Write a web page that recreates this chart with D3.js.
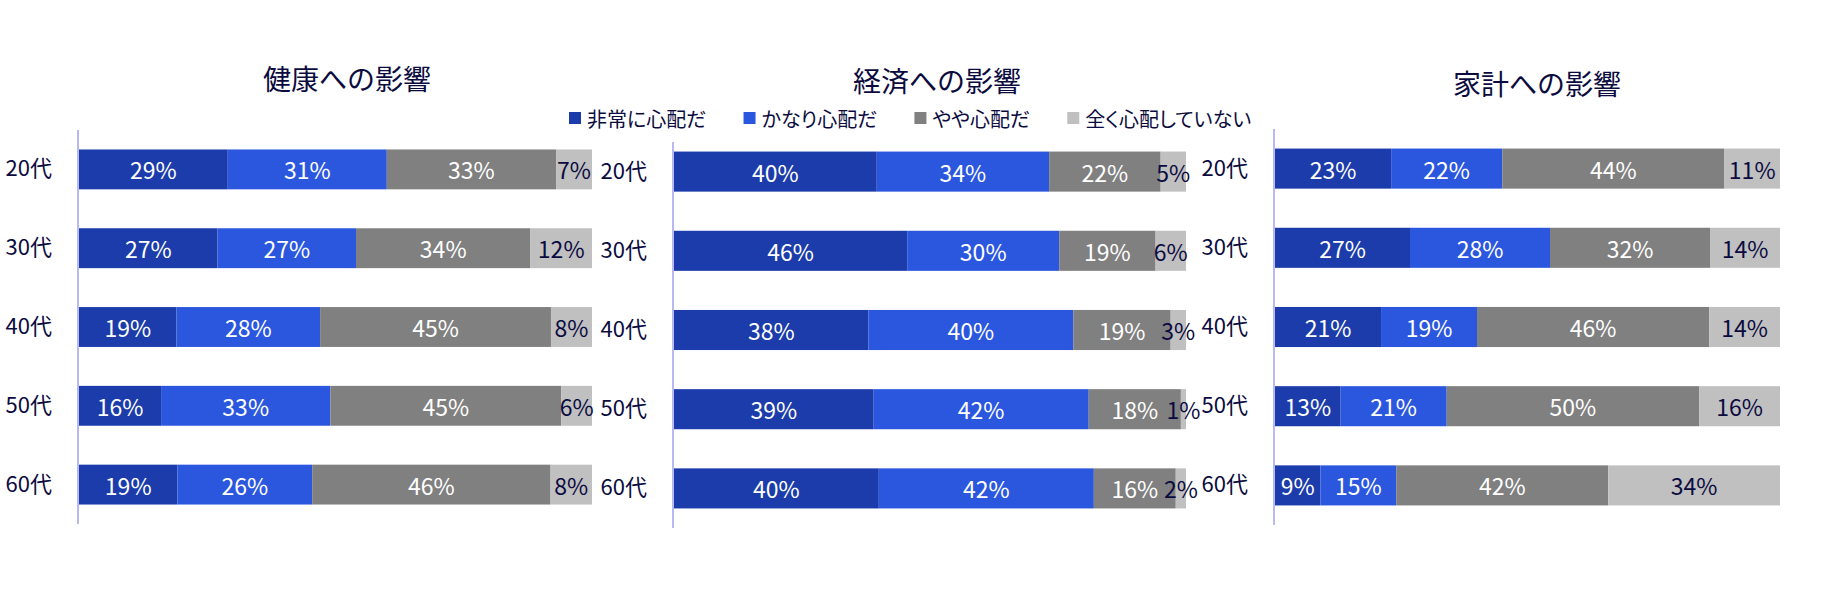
<!DOCTYPE html>
<html>
<head>
<meta charset="utf-8">
<script src="https://cdn.jsdelivr.net/npm/d3@7"></script>
<style>
  body { margin: 0; background: #fff; }
  svg { display: block; font-family: "Noto Sans CJK JP", "Noto Sans", sans-serif; }
</style>
</head>
<body>
<svg id="chart"></svg>
<script>
const width = 1842;
const height = 610;

// categories and series
const ages = ["20代", "30代", "40代", "50代", "60代"];
const seriesNames = ["非常に心配だ", "かなり心配だ", "やや心配だ", "全く心配していない"];
const colors = ["#1b3caa", "#2b57df", "#808080", "#c0c0c0"];

// 健康への影響
const healthVery = [29, 27, 19, 16, 19];
const healthQuite = [31, 27, 28, 33, 26];
const healthSome = [33, 34, 45, 45, 46];
const healthNone = [7, 12, 8, 6, 8];

// 経済への影響
const economyVery = [40, 46, 38, 39, 40];
const economyQuite = [34, 30, 40, 42, 42];
const economySome = [22, 19, 19, 18, 16];
const economyNone = [5, 6, 3, 1, 2];

// 家計への影響
const householdVery = [23, 27, 21, 13, 9];
const householdQuite = [22, 28, 19, 21, 15];
const householdSome = [44, 32, 46, 50, 42];
const householdNone = [11, 14, 14, 16, 34];

const textColor = "#0b0b40";
const axisColor = "#b8b8f2";

// panel layout (pixels)
const panels = [
    { title: "健康への影響", series: [healthVery, healthQuite, healthSome, healthNone],
      x0: 79, x1: 592, y0: 130, y1: 524, axisTop: 130, titleX: 347, titleY: 78 },
    { title: "経済への影響", series: [economyVery, economyQuite, economySome, economyNone],
      x0: 674, x1: 1186, y0: 132, y1: 528, axisTop: 142, titleX: 937, titleY: 80 },
    { title: "家計への影響", series: [householdVery, householdQuite, householdSome, householdNone],
      x0: 1275, x1: 1780, y0: 129, y1: 525, axisTop: 129, titleX: 1537, titleY: 83 }
];

const svg = d3.select("#chart")
    .attr("width", width)
    .attr("height", height);

svg.append("rect").attr("width", width).attr("height", height).attr("fill", "#fff");

panels.forEach(p => {
    // build rows for the stack
    const rows = ages.map((age, i) => {
        const row = { age: age };
        seriesNames.forEach((s, k) => { row[s] = p.series[k][i]; });
        return row;
    });

    const stacked = d3.stack()
        .keys(seriesNames)
        .offset(d3.stackOffsetExpand)(rows);

    const x = d3.scaleLinear().domain([0, 1]).range([p.x0, p.x1]);
    const y = d3.scaleBand().domain(ages).range([p.y0, p.y1])
        .paddingInner(0.494).paddingOuter(0.247);

    const g = svg.append("g");

    g.append("text")
        .attr("x", p.titleX)
        .attr("y", p.titleY)
        .attr("text-anchor", "middle")
        .attr("dominant-baseline", "central")
        .attr("font-size", 28)
        .attr("fill", textColor)
        .text(p.title);

    const layer = g.selectAll("g.layer")
        .data(stacked)
        .join("g")
        .attr("class", "layer")
        .attr("fill", (d, k) => colors[k]);

    layer.selectAll("rect")
        .data(d => d)
        .join("rect")
        .attr("x", d => x(d[0]))
        .attr("y", d => y(d.data.age))
        .attr("width", d => x(d[1]) - x(d[0]))
        .attr("height", y.bandwidth());

    // value labels
    stacked.forEach((s, k) => {
        g.selectAll(null)
            .data(s)
            .join("text")
            .attr("x", d => (x(d[0]) + x(d[1])) / 2)
            .attr("y", d => y(d.data.age) + y.bandwidth() / 2)
            .attr("text-anchor", "middle")
            .attr("dominant-baseline", "central")
            .attr("font-size", 23)
            .attr("fill", k === 3 ? textColor : "#fff")
            .text(d => d.data[s.key] + "%");
    });

    // category axis
    const axis = g.append("g")
        .attr("transform", `translate(${p.x0 - 1},0)`)
        .call(d3.axisLeft(y).tickSize(0).tickPadding(26));
    axis.select(".domain").remove();
    axis.selectAll("text")
        .attr("font-size", 22)
        .attr("font-family", "Noto Sans CJK JP")
        .attr("fill", textColor);

    g.append("line")
        .attr("x1", p.x0 - 1).attr("x2", p.x0 - 1)
        .attr("y1", p.axisTop).attr("y2", p.y1)
        .attr("stroke", axisColor)
        .attr("stroke-width", 2);
});

// legend
const legend = svg.append("g").attr("transform", "translate(569,118)");
let lx = 0;
seriesNames.forEach((name, k) => {
    const item = legend.append("g").attr("transform", `translate(${lx},0)`);
    item.append("rect")
        .attr("x", 0).attr("y", -6)
        .attr("width", 12).attr("height", 12)
        .attr("fill", colors[k]);
    const t = item.append("text")
        .attr("x", 18)
        .attr("y", 0)
        .attr("dominant-baseline", "central")
        .attr("font-size", 20)
        .attr("fill", textColor)
        .style("font-feature-settings", "'palt'")
        .text(name);
    lx += 18 + t.node().getComputedTextLength() + 37;
});
</script>
</body>
</html>
